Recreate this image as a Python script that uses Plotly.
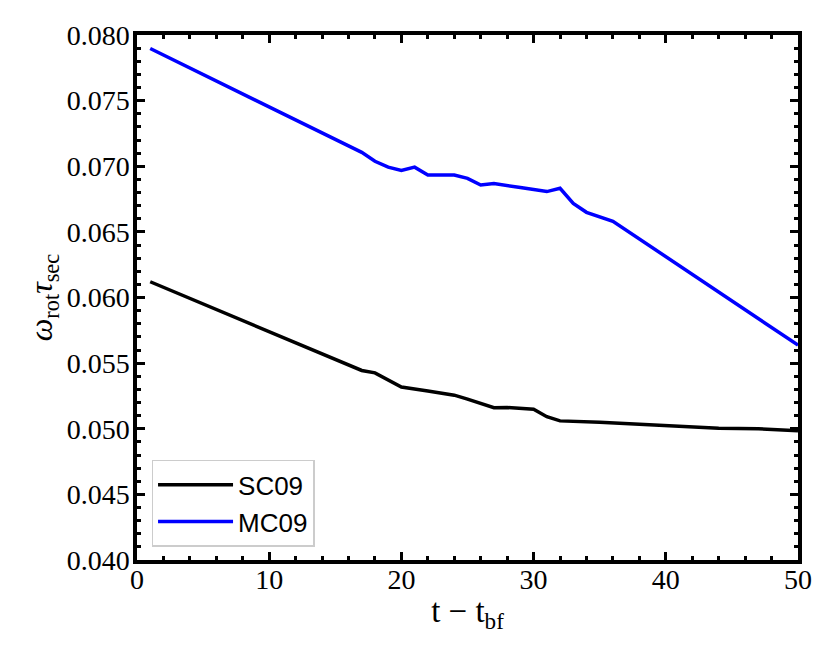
import plotly.graph_objects as go

# values
t_sc09 = [1, 17, 18, 19, 20, 22, 24, 25, 26, 27, 28, 30, 31, 32, 35, 44, 47, 50]
w_sc09 = [0.0612, 0.05444, 0.05426, 0.05369, 0.05318, 0.05288, 0.05256, 0.05226, 0.05193,
          0.0516, 0.05162, 0.05148, 0.05092, 0.0506, 0.0505, 0.05004, 0.0500, 0.04985]

t_mc09 = [1, 17, 18, 19, 20, 21, 22, 24, 25, 26, 27, 28, 29, 31, 32, 33, 34, 36, 50]
w_mc09 = [0.07897, 0.07106, 0.07038, 0.06993, 0.06968, 0.06993, 0.06933, 0.06933, 0.06908,
          0.06857, 0.06868, 0.0685, 0.06838, 0.06807, 0.06832, 0.06717, 0.06649, 0.06581, 0.05637]

serif = "'Liberation Serif', 'DejaVu Serif', 'Times New Roman', serif"

fig = go.Figure()
fig.add_trace(go.Scatter(x=t_sc09, y=w_sc09, mode="lines", name="SC09",
                         line=dict(color="black", width=3.5)))
fig.add_trace(go.Scatter(x=t_mc09, y=w_mc09, mode="lines", name="MC09",
                         line=dict(color="#0000ff", width=3.5)))

axis_style = dict(showline=True, linecolor="black", linewidth=3.5, mirror="allticks",
                  ticks="inside", ticklen=8, tickwidth=2.5, tickcolor="black",
                  showgrid=False, zeroline=False,
                  tickfont=dict(family=serif, size=28, color="black"))

fig.update_xaxes(range=[0, 50], dtick=10, ticklabelstandoff=-8,
                 minor=dict(dtick=2, ticks="inside", ticklen=4, tickwidth=2.5, tickcolor="black",
                            showgrid=False),
                 title=dict(text="t \u2212 t<sub>bf</sub>", font=dict(family=serif, size=33, color="black"),
                            standoff=6),
                 **axis_style)
fig.update_yaxes(range=[0.040, 0.080], dtick=0.005, tickformat=".3f", ticklabelstandoff=-2,
                 minor=dict(dtick=0.001, ticks="inside", ticklen=4, tickwidth=2.5, tickcolor="black",
                            showgrid=False),
                 title=dict(text="<i>\u03c9</i><sub>rot</sub><i>\u03c4</i><sub>sec</sub>",
                            font=dict(family=serif, size=32, color="black"), standoff=5),
                 **axis_style)

# the page body adds an 8px offset, margins allow for it
fig.update_layout(
    width=831, height=658,
    margin=dict(l=129, r=41, t=21, b=106),
    plot_bgcolor="white", paper_bgcolor="white",
    legend=dict(x=0.022, y=0.025, xanchor="left", yanchor="bottom", itemwidth=75,
                bgcolor="white", bordercolor="#cccccc", borderwidth=1.5,
                font=dict(family="'Liberation Sans', Arial, sans-serif", size=26, color="black")),
)

fig.write_html("out.html")
